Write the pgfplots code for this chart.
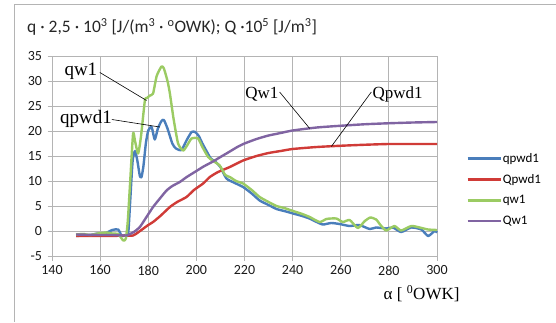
\documentclass[border=0pt]{standalone}
\usepackage{pgfplots}
\pgfplotsset{compat=1.18}
\usepackage{fontspec}
\setmainfont{Carlito}
\newfontfamily\seriffont{Liberation Serif}
\definecolor{cblue}{HTML}{4A7EBB}
\definecolor{cred}{HTML}{D03B37}
\definecolor{cgreen}{HTML}{9BCB63}
\definecolor{cpurple}{HTML}{8064A2}
\definecolor{cgrid}{HTML}{B4B4B4}
\begin{document}
\begin{tikzpicture}[x=1pt,y=1pt]
\useasboundingbox (0pt,0pt) rectangle (556pt,322pt);
\draw[cgrid, line width=1pt] (14pt,0pt) -- (14pt,317pt) -- (560pt,317pt);
\node[anchor=west, font=\fontsize{17.5}{20}\selectfont, text=black!85, inner sep=0pt] at (27pt,295pt)
  {q · 2,5 · 10\textsuperscript{3} [J/(m\textsuperscript{3} · \textsuperscript{o}OWK); Q ·10\textsuperscript{5} [J/m\textsuperscript{3}]};
\begin{axis}[
  at={(52pt,66pt)}, anchor=south west,
  scale only axis, width=385pt, height=200pt,
  xmin=140, xmax=300, ymin=-5, ymax=35,
  xtick={140,160,...,300}, ytick={-5,0,...,35},
  grid=major,
  major grid style={cgrid, line width=1pt},
  axis line style={cgrid, line width=1pt},
  axis x line=bottom, axis y line=left,
  x axis line style={-}, y axis line style={-},
  tick align=center, major tick length=9pt,
  tick style={cgrid, line width=1pt},
  every tick label/.append style={font=\fontsize{14}{15}\selectfont, text=black!90},
  yticklabel style={xshift=-2pt},
  xticklabel style={yshift=-1.5pt},
  /pgf/number format/assume math mode=true,
  /pgf/number format/.cd, 1000 sep={}, /pgfplots/.cd,
  clip=false,
  xlabel={\seriffont\fontsize{17}{18}\selectfont α [ \textsuperscript{0}OWK]},
  xlabel style={at={(rel axis cs:0.96,0)}, anchor=north, yshift=-29pt, inner sep=0pt},
  legend style={at={(1.076,0.3325)}, anchor=west, draw=none, fill=none,
    font=\fontsize{13}{15}\selectfont, row sep=8.5pt, inner sep=0pt,
    nodes={inner sep=1pt}},
  legend cell align=left,
  legend image code/.code={\draw[#1] (0pt,0pt) -- (33pt,0pt);},
  every axis plot/.append style={line width=2.4pt, line join=round, smooth, tension=0.35},
]
% qpwd1
\addplot[cblue] coordinates {
(150,-1.0) (153,-0.9) (156,-0.8) (159,-0.5) (162,-0.5) (165,0.2) (167.5,0.3) (169,-1.0) (170.5,-0.8) (171.7,-0.3)
(172.5,6) (173.5,14) (174.5,16) (175.5,14) (176.5,11) (177.2,10.8) (178,13) (179,17.5) (180,20.1) (181.4,20.8)
(182.7,18.3) (184,20.5) (185.5,22) (186.5,22.2) (188,20.5) (190,17.5) (191.5,16.5) (193.8,16.2) (196,18.2) (198,19.8)
(199.5,19.8) (201,19) (202.5,17.5) (204.2,16.0) (206,14.5) (208,13.8) (210,12.8) (212.5,10.5) (216,9.6) (219.4,8.8)
(223,7.5) (226.3,6.1) (230,5.2) (233.3,4.4) (236.5,4.0) (240.2,3.5) (244,3.0) (247,2.5) (250,1.8) (252.6,1.3)
(256,1.6) (259.5,1.4) (263.7,1.0) (267.7,1.2) (272,0.4) (274.7,0.7) (278.9,0.5) (281.7,0.7) (285.1,-0.2) (289.3,0.7)
(293.5,0.3) (296.3,-1.0) (299,0) (300,-0.3)};
\addlegendentry{qpwd1}
% Qpwd1
\addplot[cred] coordinates {
(150,-1.0) (155,-1.0) (160,-1.0) (165,-1.0) (170,-0.9) (173.7,-0.9) (176,-0.2) (178,0.5) (180,1.2) (182,1.8)
(185,3.0) (189,4.8) (192,5.8) (195.9,6.8) (199,8.2) (202.8,9.5) (205.6,10.8) (209,11.8) (213.9,12.8) (219.4,14.1)
(225,15.0) (230,15.6) (235,16.0) (240,16.4) (250,16.8) (260,17.05) (270,17.25) (280,17.4) (290,17.4) (300,17.4)};
\addlegendentry{Qpwd1}
% qw1
\addplot[cgreen] coordinates {
(150,-0.7) (153,-0.6) (156,-0.8) (159,-0.5) (162.7,-0.3) (165,-0.5) (167.5,-0.6) (169.6,-1.9) (170.7,-1.5) (171.5,2)
(172.5,10) (173.7,19.5) (174.5,18) (175.8,15.5) (177,19) (178.6,26.1) (179.5,26.6) (180.7,27.1) (182,27.5) (183.5,31)
(185.5,32.9) (186.5,32.5) (188,30) (189,27.5) (190.5,22.5) (192.4,17.5) (194.5,16.1) (196,17) (198,18.5) (200.7,18.5)
(202.5,16.8) (204.9,14.8) (207,14) (209.7,13.1) (212,11.2) (213.9,10.8) (216.5,10) (219.4,9.5) (223,8.2) (226.3,6.8)
(230,5.8) (233.3,5.0) (236.5,4.6) (240.2,4.0) (244,3.4) (247.1,2.8) (251.2,1.8) (254,2.4) (256,2.5) (258.2,2.5)
(260.9,1.8) (263.7,2.2) (267.1,0.6) (270,2.0) (272.3,2.7) (274.7,2.3) (276.5,1.2) (278.9,0.1) (282.3,1.0) (285.1,0.1)
(289.3,1.0) (292.8,0.7) (296.3,0.3) (300,0.2)};
\addlegendentry{qw1}
% Qw1
\addplot[cpurple] coordinates {
(150,-0.7) (160,-0.8) (165,-0.8) (170,-0.9) (171,-0.9) (174,-0.2) (176.5,0.8) (179,2.6) (182,4.8) (185,6.6)
(187.6,8.1) (190,9.0) (193.1,9.8) (196,10.8) (200,12.0) (203,12.9) (206.9,13.9) (210,14.8) (213.9,15.9) (217,16.8)
(220,17.5) (225,18.4) (230,19.1) (235,19.6) (240,20.1) (250,20.7) (260,21.05) (270,21.35) (280,21.55) (290,21.7) (300,21.8)};
\addlegendentry{Qw1}
% annotations
\draw[black, line width=0.6pt] (axis cs:159.9,31.7) -- (axis cs:179.3,26.1);
\draw[black, line width=0.6pt] (axis cs:164.9,22.3) -- (axis cs:184.8,20.8);
\draw[black, line width=0.6pt] (axis cs:234.6,27.8) -- (axis cs:247.1,20.5);
\draw[black, line width=0.6pt] (axis cs:272.7,27.8) -- (axis cs:256.1,16.9);
\node[font=\seriffont\fontsize{19}{20}\selectfont, inner sep=0pt] at (axis cs:152,31.9) {qw1};
\node[font=\seriffont\fontsize{19}{20}\selectfont, inner sep=0pt] at (axis cs:154.1,22.5) {qpwd1};
\node[font=\seriffont\fontsize{17}{18}\selectfont, inner sep=0pt] at (axis cs:227.2,27.3) {Qw1};
\node[font=\seriffont\fontsize{17}{18}\selectfont, inner sep=0pt] at (axis cs:283.6,27.3) {Qpwd1};
\end{axis}
\end{tikzpicture}
\end{document}
